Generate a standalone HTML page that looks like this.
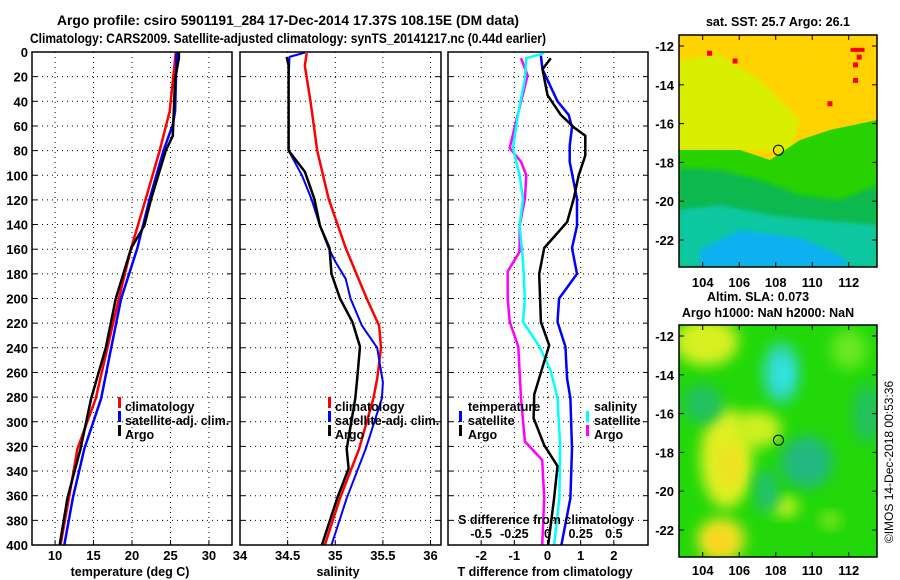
<!DOCTYPE html>
<html><head><meta charset="utf-8"><style>
body{margin:0;background:#fff;}
svg{display:block;font-family:"Liberation Sans",sans-serif;font-weight:bold;}
</style></head><body>
<svg id="fig" width="900" height="580" viewBox="0 0 900 580">
<defs>
<filter id="blur2" x="-30%" y="-30%" width="160%" height="160%"><feGaussianBlur stdDeviation="7"/></filter>
<filter id="blur1"><feGaussianBlur stdDeviation="2"/></filter>
<clipPath id="c1"><rect x="679" y="35" width="198" height="232"/></clipPath>
<clipPath id="c2"><rect x="679" y="325" width="198" height="232"/></clipPath>
</defs>
<text x="288" y="25" font-size="14" text-anchor="middle" textLength="462" lengthAdjust="spacingAndGlyphs">Argo profile: csiro 5901191_284 17-Dec-2014 17.37S 108.15E (DM data)</text>
<text x="288" y="43" font-size="14" text-anchor="middle" textLength="516" lengthAdjust="spacingAndGlyphs">Climatology: CARS2009. Satellite-adjusted climatology: synTS_20141217.nc (0.44d earlier)</text>
<g id="maps"></g>
<g id="panels"></g>
</svg>
<script>
// ---- data ----
const depthTicks=[0,20,40,60,80,100,120,140,160,180,200,220,240,260,280,300,320,340,360,380,400];
const tempTicks=[10,15,20,25,30];
const salTicks=[34,34.5,35,35.5,36];
const tdiffTicks=[-2,-1,0,1,2];
const sdiffTicks=[-0.5,-0.25,0,0.25,0.5];
const sdiffLabels=["-0.5","-0.25","0","0.25","0.5"];
// panel 1: temperature
const tClimD=[0,48,80,119,159,200,240,281,322,362,400];
const tClimV=[25.7,24.9,23.6,21.8,19.9,18.3,16.8,15.3,12.9,11.8,10.7];
const tSatD=[0,48,59,80,119,159,200,240,281,322,362,400];
const tSatV=[25.8,25.6,25.3,24.1,22.3,20.7,18.6,17.3,16.0,13.8,12.3,11.2];
const tArgoD=[0,5,22,68,80,119,141,159,200,240,281,322,362,400];
const tArgoV=[26.1,26.1,25.6,25.3,24.4,22.5,21.6,19.9,17.9,16.6,14.7,13.3,11.6,10.6];
// panel 2: salinity
const sClimD=[1,11,40,80,119,159,200,222,240,265,281,322,362,400];
const sClimV=[34.70,34.68,34.74,34.81,34.93,35.11,35.33,35.46,35.48,35.44,35.40,35.25,35.05,34.89];
const sSatD=[0.5,4,22,80,100,119,141,159,170,184,200,222,240,268,281,322,362,400];
const sSatV=[34.68,34.52,34.51,34.51,34.65,34.75,34.84,34.93,35.0,35.11,35.16,35.28,35.44,35.5,35.49,35.32,35.12,34.96];
const sArgoD=[4,11,80,97,119,141,159,180,200,219,239,265,281,322,338,362,400];
const sArgoV=[34.49,34.51,34.51,34.68,34.78,34.84,34.94,34.96,35.05,35.18,35.26,35.23,35.21,35.12,35.14,35.02,34.86];
// panel 3: differences
const dTSatD=[3,14,40,51,61,76,89,119,141,159,180,200,219,239,265,281,322,362,400];
const dTSatV=[-0.2,-0.15,0.3,0.64,0.74,0.67,0.67,0.89,0.89,0.74,0.89,0.35,0.3,0.54,0.59,0.69,0.74,0.69,0.42];
const dTArgoD=[5,14,35,51,61,68,84,100,119,138,159,180,219,238,278,297,319,336,362,400];
const dTArgoV=[0.1,-0.15,0,0.4,0.79,1.14,1.14,0.94,0.79,0.59,-0.1,-0.25,-0.2,0.05,-0.4,-0.42,-0.1,0.3,0.2,0.02];
const dSSatD=[1,5,22,49,78,100,119,141,170,200,219,239,259,281,319,362,400];
const dSSatV=[-0.025,-0.16,-0.17,-0.22,-0.26,-0.21,-0.185,-0.21,-0.185,-0.17,-0.185,-0.06,0.025,0.075,0.095,0.09,0.05];
const dSArgoD=[5,19,49,78,89,100,119,141,162,178,200,219,239,281,316,331,362,400];
const dSArgoV=[-0.2,-0.15,-0.22,-0.285,-0.2,-0.16,-0.17,-0.21,-0.21,-0.3,-0.3,-0.285,-0.22,-0.2,-0.17,-0.04,-0.025,-0.04];

const NS='http://www.w3.org/2000/svg';
const root=document.getElementById('panels');
function mk(tag,attrs,parent){const e=document.createElementNS(NS,tag);for(const k in attrs)e.setAttribute(k,attrs[k]);(parent||root).appendChild(e);return e;}
const Y0=52,Y1=545;
const yD=d=>Y0+(d/400)*(Y1-Y0);
function makeX(x0,x1,v0,v1){return v=>x0+(v-v0)/(v1-v0)*(x1-x0);}
const xT=makeX(32,232,7,33);
const xS=makeX(240,441,34,36.11);
const xDT=makeX(448,648,-3,3.03);
const xDS=v=>xDT(v*4);

function panel(x0,x1,name){
  const g=mk('g',{});
  
  
  depthTicks.forEach(d=>{if(d>0&&d<400){const l=mk('line',{x1:x0,x2:x1,y1:yD(d),y2:yD(d),stroke:'#000','stroke-width':1,'stroke-dasharray':'1 4'},g);
    
    
    mk('line',{x1:x0,x2:x0+5,y1:yD(d),y2:yD(d),stroke:'#000'},g);mk('line',{x1:x1-5,x2:x1,y1:yD(d),y2:yD(d),stroke:'#000'},g);}});
  return g;
}
function vgrid(g,xs,fx){xs.forEach(v=>{const x=fx(v);const l=mk('line',{x1:x,x2:x,y1:Y0,y2:Y1,stroke:'#000','stroke-dasharray':'1 4'},g);
  
  
  mk('line',{x1:x,x2:x,y1:Y1-5,y2:Y1,stroke:'#000'},g);});}
function frame(g,x0,x1){const r=mk('rect',{x:x0,y:Y0,width:x1-x0,height:Y1-Y0,fill:'none',stroke:'#000','stroke-width':1.5},g);
  
  }
function series(g,D,V,fx,color,w,name){
  const pts=D.map((d,i)=>fx(V[i]).toFixed(1)+','+yD(d).toFixed(1)).join(' ');
  const p=mk('polyline',{points:pts,fill:'none',stroke:color,'stroke-width':w,'stroke-linejoin':'round'},g);
  
  
}
function txt(g,x,y,s,size,anchor,name,fill){const t=mk('text',{x:x,y:y,'font-size':size,'text-anchor':anchor||'start',fill:fill||'#000'},g);t.textContent=s;
  
  return t;}
function legMark(g,x,y,color){mk('rect',{x:x,y:y-10,width:3,height:11,fill:color},g);}

// panel 1
const g1=panel(32,232,'temperature-panel');
vgrid(g1,tempTicks,xT);
depthTicks.forEach(d=>txt(g1,28,yD(d)+5,String(d),13,'end','depth-tick-label'));
series(g1,tClimD,tClimV,xT,'#ff0000',2.5,'climatology-temperature-line');
series(g1,tSatD,tSatV,xT,'#0000ff',2.5,'satellite-temperature-line');
series(g1,tArgoD,tArgoV,xT,'#000',2.5,'argo-temperature-line');
frame(g1,32,232);
tempTicks.forEach(v=>txt(g1,xT(v),560,String(v),13,'middle','temperature-tick-label'));
txt(g1,130,576,'temperature (deg C)',12.5,'middle','temperature-axis-title');
legMark(g1,118,407,'#ff0000');txt(g1,125,411,'climatology',12.5,'start','legend-climatology');
legMark(g1,118,421,'#0000ff');txt(g1,125,425,'satellite-adj. clim.',12.5,'start','legend-satellite-adj');
legMark(g1,118,435,'#000');txt(g1,125,439,'Argo',12.5,'start','legend-argo');

// panel 2
const g2=panel(240,441,'salinity-panel');
vgrid(g2,salTicks.slice(1),xS);
series(g2,sClimD,sClimV,xS,'#ff0000',2.5,'climatology-salinity-line');
series(g2,sSatD,sSatV,xS,'#0000ff',2,'satellite-salinity-line');
series(g2,sArgoD,sArgoV,xS,'#000',2.5,'argo-salinity-line');
frame(g2,240,441);
salTicks.forEach(v=>txt(g2,xS(v),560,String(v),13,'middle','salinity-tick-label'));
txt(g2,338,576,'salinity',12.5,'middle','salinity-axis-title');
legMark(g2,328,407,'#ff0000');txt(g2,335,411,'climatology',12.5,'start','legend-climatology');
legMark(g2,328,421,'#0000ff');txt(g2,335,425,'satellite-adj. clim.',12.5,'start','legend-satellite-adj');
legMark(g2,328,435,'#000');txt(g2,335,439,'Argo',12.5,'start','legend-argo');

// panel 3
const g3=panel(448,648,'difference-panel');
vgrid(g3,tdiffTicks,xDT);
series(g3,dSArgoD,dSArgoV,xDS,'#ff00ff',2.5,'argo-salinity-diff-line');
series(g3,dSSatD,dSSatV,xDS,'#00ffff',2.5,'satellite-salinity-diff-line');
series(g3,dTSatD,dTSatV,xDT,'#0000ff',2.5,'satellite-temperature-diff-line');
series(g3,dTArgoD,dTArgoV,xDT,'#000',2.5,'argo-temperature-diff-line');
frame(g3,448,648);
tdiffTicks.forEach(v=>txt(g3,xDT(v),560,String(v),13,'middle','t-diff-tick-label'));
sdiffTicks.forEach((v,i)=>txt(g3,xDS(v),538,sdiffLabels[i],12.5,'middle','s-diff-tick-label'));
txt(g3,546,524,'S difference from climatology',12.5,'middle','s-diff-axis-title');
txt(g3,545,576,'T difference from climatology',12.5,'middle','t-diff-axis-title');
txt(g3,468,411,'temperature',12.5,'start','legend-temperature-header');
legMark(g3,459,421,'#0000ff');txt(g3,468,425,'satellite',12.5,'start','legend-t-satellite');
legMark(g3,459,435,'#000');txt(g3,468,439,'Argo',12.5,'start','legend-t-argo');
txt(g3,594,411,'salinity',12.5,'start','legend-salinity-header');
legMark(g3,586,421,'#00ffff');txt(g3,594,425,'satellite',12.5,'start','legend-s-satellite');
legMark(g3,586,435,'#ff00ff');txt(g3,594,439,'Argo',12.5,'start','legend-s-argo');

// ---- maps ----
const lonTicks=[104,106,108,110,112];
const latTicks=[-12,-14,-16,-18,-20,-22];
const argoLon=108.15, argoLat=-17.37;
const mroot=document.getElementById('maps');
const xL=lon=>679+(lon-102.7)*18.25;
function mapAxes(top,name){
  const yL=lat=>top+11+(-12-lat)*19.4;
  const g=mk('g',{},mroot);
  
  
  return {g,yL};
}
// SST map
(function(){
  const {g,yL}=mapAxes(35,'sst-map');
  const c=mk('g',{'clip-path':'url(#c1)'},g);
  mk('rect',{x:679,y:35,width:198,height:232,fill:'#ffd200'},c);
  mk('polygon',{points:'679,60 720,55 760,80 800,120 790,150 740,150 679,150',fill:'#d8f000',filter:'url(#blur1)'},c);
  mk('polygon',{points:'679,150 740,150 770,160 800,140 830,130 877,120 877,267 679,267',fill:'#28d200'},c);
  mk('polygon',{points:'679,168 720,170 760,180 800,195 840,200 877,185 877,267 679,267',fill:'#10b850',filter:'url(#blur1)'},c);
  mk('polygon',{points:'679,210 720,205 770,215 820,220 877,225 877,267 679,267',fill:'#10c8a0',filter:'url(#blur1)'},c);
  mk('polygon',{points:'700,250 740,230 800,238 840,255 850,267 700,267',fill:'#10b0f0',filter:'url(#blur1)'},c);
  [[104.4,-12.4],[105.8,-12.8],[112.4,-13.8],[111,-15],[112.6,-12.6],[112.4,-13]].forEach(p=>mk('rect',{x:xL(p[0])-3,y:yL(p[1])-3,width:5,height:5,fill:'#ff0000'},c));
  mk('rect',{x:xL(112.1),y:yL(-12.2)-2,width:14,height:4,fill:'#ff0000'},c);
  mk('rect',{x:679,y:35,width:198,height:232,fill:'none',stroke:'#000','stroke-width':1.5},g);
  const m=mk('circle',{cx:xL(argoLon),cy:yL(argoLat),r:5,fill:'none',stroke:'#000','stroke-width':1},g);
  
  
  latTicks.forEach(v=>{txt(g,674,yL(v)+5,String(v),13,'end','lat-tick-label');mk('line',{x1:679,x2:684,y1:yL(v),y2:yL(v),stroke:'#000'},g);mk('line',{x1:872,x2:877,y1:yL(v),y2:yL(v),stroke:'#000'},g);});
  lonTicks.forEach(v=>{txt(g,xL(v),287,String(v),13,'middle','lon-tick-label');mk('line',{x1:xL(v),x2:xL(v),y1:262,y2:267,stroke:'#000'},g);mk('line',{x1:xL(v),x2:xL(v),y1:35,y2:40,stroke:'#000'},g);});
  txt(g,778,26,'sat. SST: 25.7 Argo: 26.1',12.5,'middle','sst-map-title');
})();
// SLA map
(function(){
  const {g,yL}=mapAxes(325,'sla-map');
  const c=mk('g',{'clip-path':'url(#c2)'},g);
  mk('rect',{x:679,y:325,width:198,height:232,fill:'#22d808'},c);
  const blobs=[[104.2,-12.3,32,24,'#d8f020'],[105.3,-18.3,26,50,'#e0f020'],[107,-16.8,24,18,'#d0f020'],[105.5,-18.7,12,22,'#f0e020'],[105,-22.5,24,22,'#f0e020'],[104.9,-22.6,10,10,'#ffd020'],[108.3,-13.9,18,30,'#30d8c8'],[108.4,-14,8,12,'#30e8e8'],[112,-12.7,18,20,'#68e820'],[109.7,-18.5,26,26,'#20b880'],[104,-15.5,20,20,'#20c060'],[108.5,-20.8,14,10,'#c8f020'],[111,-21.5,10,8,'#90e820'],[107.5,-20,12,22,'#20c070'],[113,-16,14,30,'#20c060']];
  blobs.forEach(b=>mk('ellipse',{cx:xL(b[0]),cy:yL(b[1]),rx:b[2],ry:b[3],fill:b[4],filter:'url(#blur2)'},c));
  mk('rect',{x:679,y:325,width:198,height:232,fill:'none',stroke:'#000','stroke-width':1.5},g);
  const m=mk('circle',{cx:xL(argoLon),cy:yL(argoLat),r:5,fill:'none',stroke:'#000','stroke-width':1},g);
  
  
  latTicks.forEach(v=>{txt(g,674,yL(v)+5,String(v),13,'end','lat-tick-label');mk('line',{x1:679,x2:684,y1:yL(v),y2:yL(v),stroke:'#000'},g);mk('line',{x1:872,x2:877,y1:yL(v),y2:yL(v),stroke:'#000'},g);});
  lonTicks.forEach(v=>{txt(g,xL(v),575,String(v),13,'middle','lon-tick-label');mk('line',{x1:xL(v),x2:xL(v),y1:552,y2:557,stroke:'#000'},g);mk('line',{x1:xL(v),x2:xL(v),y1:325,y2:330,stroke:'#000'},g);});
  txt(g,758,301,'Altim. SLA: 0.073',12.5,'middle','sla-map-title');
  txt(g,768,317,'Argo h1000: NaN h2000: NaN',12.5,'middle','sla-map-subtitle');
  const cr=txt(g,0,0,'©IMOS 14-Dec-2018 00:53:36',12,'middle','imos-credit');
  cr.setAttribute('transform','translate(893,462) rotate(-90)');
  cr.setAttribute('font-weight','normal');
})();
</script>
</body></html>
